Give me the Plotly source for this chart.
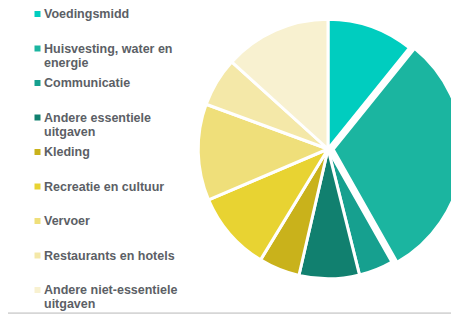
import plotly.graph_objects as go

labels = [
    "Voedingsmidd",
    "Huisvesting, water en<br>energie",
    "Communicatie",
    "Andere essentiele<br>uitgaven",
    "Kleding",
    "Recreatie en cultuur",
    "Vervoer",
    "Restaurants en hotels",
    "Andere niet-essentiele<br>uitgaven",
]
values = [10.8, 31.0, 4.3, 7.5, 5.1, 9.9, 12.0, 6.1, 13.3]
colors = ["#00CDBF", "#1BB5A0", "#16A08F", "#11806F", "#C9B21B",
          "#E8D332", "#EFDF7A", "#F4E8A8", "#F8F1D0"]
pulls = [0.0, 0.04, 0, 0, 0, 0, 0, 0, 0]

W, H = 459, 314
OFF = 8  # page offset of the figure (browser body margin)


def px(x):
    return (x - OFF) / W


def py(y):
    return 1 - (y - OFF) / H


fig = go.Figure(go.Pie(
    labels=[l.replace("<br>", " ") for l in labels],
    values=values,
    sort=False,
    direction="clockwise",
    rotation=0,
    pull=pulls,
    marker=dict(colors=colors, line=dict(color="white", width=3)),
    textinfo="none",
    hoverinfo="label+percent",
    showlegend=False,
    domain=dict(x=[px(193), px(463)], y=[py(284), py(14)]),
))

# hand-drawn legend (fixed spacing like the reference)
annotations = []
shapes = []
font = dict(family="Liberation Sans, Arial", size=12.5, color="#5c5f66", weight="bold")
for i, (lab, col) in enumerate(zip(labels, colors)):
    yc = 14 + i * 34.5
    shapes.append(dict(type="rect", xref="paper", yref="paper",
                       x0=px(34.5), x1=px(40.5), y0=py(yc + 3), y1=py(yc - 3),
                       fillcolor=col, line=dict(width=0)))
    for j, line in enumerate(lab.split("<br>")):
        annotations.append(dict(xref="paper", yref="paper", x=px(41.5), y=py(yc + j * 14),
                                xanchor="left", yanchor="middle", showarrow=False,
                                text=line, font=font))

# thin grey frame line at the bottom of the picture
shapes.append(dict(type="rect", xref="paper", yref="paper", x0=0, x1=1,
                   y0=py(314.5), y1=py(312.3), fillcolor="#d6d6d6", line=dict(width=0)))

fig.update_layout(
    width=W, height=H,
    margin=dict(l=0, r=0, t=0, b=0),
    paper_bgcolor="white",
    plot_bgcolor="white",
    annotations=annotations,
    shapes=shapes,
)

fig.write_html("out.html")
